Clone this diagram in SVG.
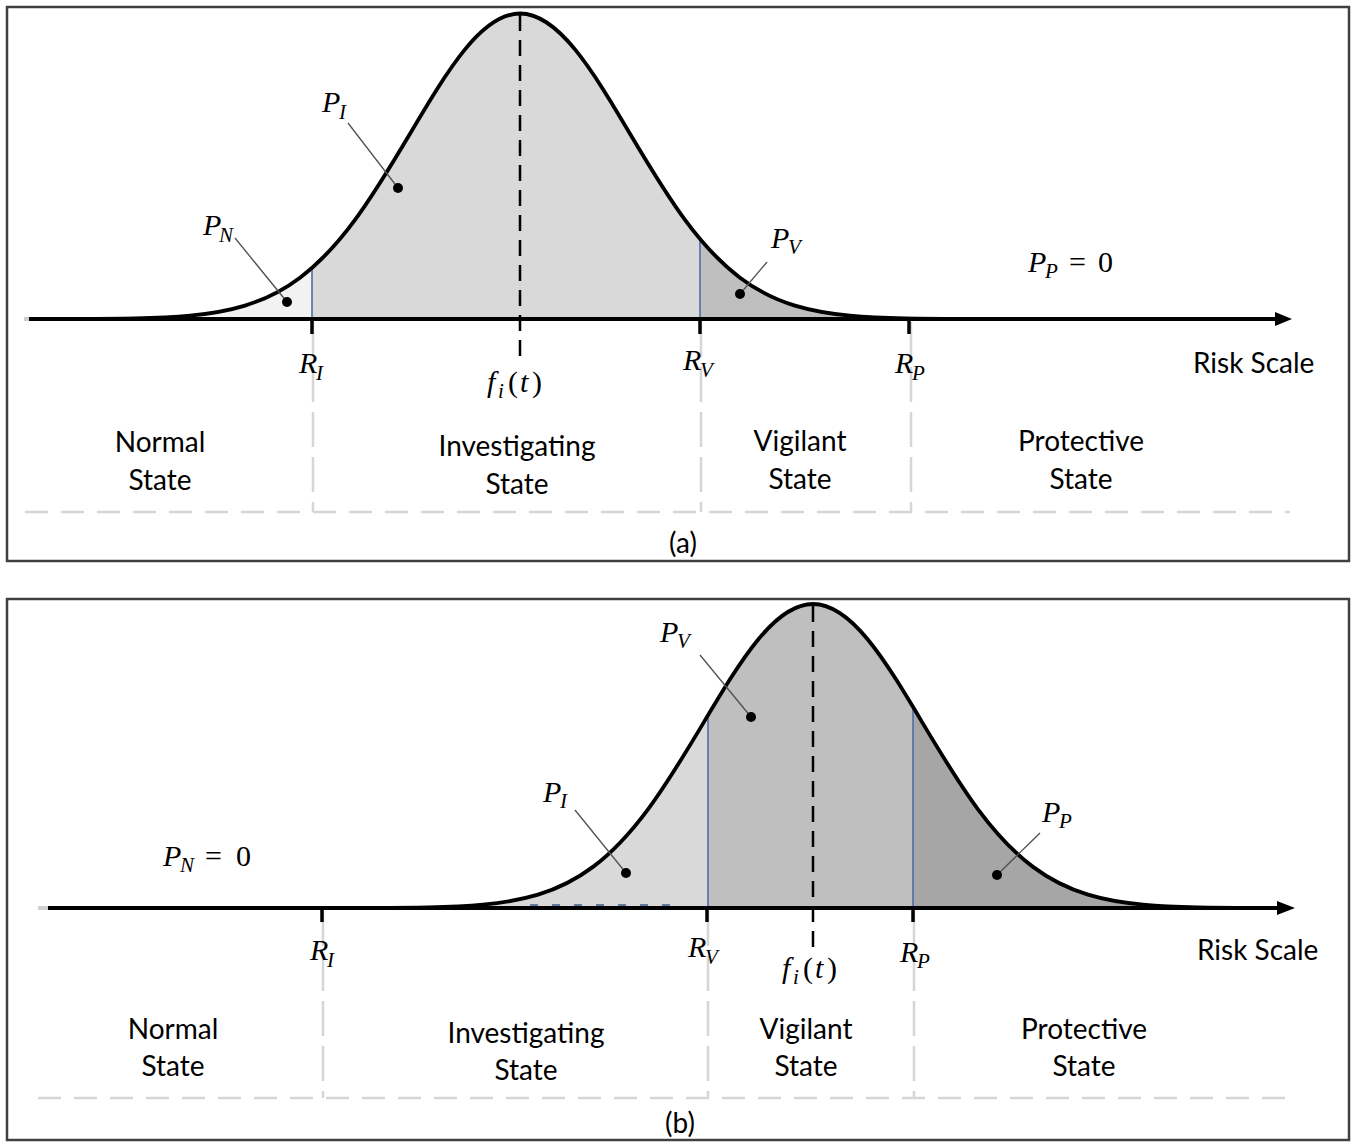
<svg xmlns="http://www.w3.org/2000/svg" xmlns:xlink="http://www.w3.org/1999/xlink" width="1357" height="1142" viewBox="0 0 1357 1142">
<style>
.frame{fill:none;stroke:#404040;stroke-width:2.5}
.axis{stroke:#000;stroke-width:4;fill:none}
.axisext{stroke:#d0d0d0;stroke-width:4}
.tick{stroke:#000;stroke-width:3.5}
.peak{stroke:#000;stroke-width:2.5;stroke-dasharray:16 9;fill:none}
.gv{stroke:#d6d6d6;stroke-width:2.5;stroke-dasharray:35 10;fill:none}
.gh{stroke:#d6d6d6;stroke-width:2.5;stroke-dasharray:23 13;fill:none}
.blue{stroke:#4a6ea8;stroke-width:1.6}
.lead{stroke:#505050;stroke-width:1.3;fill:none}
.dot{fill:#000}
.curve{fill:none;stroke:#000;stroke-width:3.8;stroke-linejoin:round}
.m{font-family:"Liberation Serif","DejaVu Serif",serif;font-style:italic;font-size:30px;fill:#000}
.s{font-size:21px}
.up{font-style:normal}
.t{font-family:Lato,"Liberation Sans",sans-serif;font-size:28px;text-anchor:middle;fill:#000}
.rs{font-family:Lato,"Liberation Sans",sans-serif;font-size:28px;fill:#000}
</style>
<defs>
<path id="gA" vector-effect="non-scaling-stroke" transform="translate(520,319) scale(110,-305.5)" d="M-4 0 L-4 0.00034 C-3.8333 0.00056 -3.6667 0.00091 -3.5 0.00219 C-3.3333 0.00347 -3.1667 0.00555 -3 0.01111 C-2.8333 0.01667 -2.6667 0.02563 -2.5 0.04394 C-2.3333 0.06225 -2.1667 0.09023 -2 0.13534 C-1.8333 0.18045 -1.6667 0.24349 -1.5 0.32465 C-1.3333 0.40581 -1.1667 0.50544 -1 0.60653 C-0.8333 0.70762 -0.6667 0.80896 -0.5 0.8825 C-0.3333 0.95604 -0.1667 1 0 1 C0.1667 1 0.3333 0.95604 0.5 0.8825 C0.6667 0.80896 0.8333 0.70762 1 0.60653 C1.1667 0.50544 1.3333 0.40581 1.5 0.32465 C1.6667 0.24349 1.8333 0.18045 2 0.13534 C2.1667 0.09023 2.3333 0.06225 2.5 0.04394 C2.6667 0.02563 2.8333 0.01667 3 0.01111 C3.1667 0.00555 3.3333 0.00347 3.5 0.00219 C3.6667 0.00091 3.8333 0.00056 4 0.00034 L4 0 Z"/>
<path id="gB" vector-effect="non-scaling-stroke" transform="translate(813,908) scale(110,-304)" d="M-4 0 L-4 0.00034 C-3.8333 0.00056 -3.6667 0.00091 -3.5 0.00219 C-3.3333 0.00347 -3.1667 0.00555 -3 0.01111 C-2.8333 0.01667 -2.6667 0.02563 -2.5 0.04394 C-2.3333 0.06225 -2.1667 0.09023 -2 0.13534 C-1.8333 0.18045 -1.6667 0.24349 -1.5 0.32465 C-1.3333 0.40581 -1.1667 0.50544 -1 0.60653 C-0.8333 0.70762 -0.6667 0.80896 -0.5 0.8825 C-0.3333 0.95604 -0.1667 1 0 1 C0.1667 1 0.3333 0.95604 0.5 0.8825 C0.6667 0.80896 0.8333 0.70762 1 0.60653 C1.1667 0.50544 1.3333 0.40581 1.5 0.32465 C1.6667 0.24349 1.8333 0.18045 2 0.13534 C2.1667 0.09023 2.3333 0.06225 2.5 0.04394 C2.6667 0.02563 2.8333 0.01667 3 0.01111 C3.1667 0.00555 3.3333 0.00347 3.5 0.00219 C3.6667 0.00091 3.8333 0.00056 4 0.00034 L4 0 Z"/>
<clipPath id="cA1"><rect x="0" y="0" width="312" height="560"/></clipPath>
<clipPath id="cA2"><rect x="312" y="0" width="388" height="560"/></clipPath>
<clipPath id="cA3"><rect x="700" y="0" width="657" height="560"/></clipPath>
<clipPath id="cB1"><rect x="0" y="598" width="708" height="540"/></clipPath>
<clipPath id="cB2"><rect x="708" y="598" width="205" height="540"/></clipPath>
<clipPath id="cB3"><rect x="913" y="598" width="444" height="540"/></clipPath>
</defs>
<rect width="1357" height="1142" fill="#fff"/>

<g id="panel-a">
  <rect class="frame" x="7" y="7" width="1342" height="554"/>
  <g id="a-distribution">
    <g clip-path="url(#cA1)"><use xlink:href="#gA" fill="#f2f2f2"/></g>
    <g clip-path="url(#cA2)"><use xlink:href="#gA" fill="#d9d9d9"/></g>
    <g clip-path="url(#cA3)"><use xlink:href="#gA" fill="#bfbfbf"/></g>
    <line class="blue" x1="312" y1="268" x2="312" y2="318"/>
    <line class="blue" x1="700" y1="239" x2="700" y2="318"/>
  </g>
  <g id="a-grid">
    <line class="gv" x1="313" y1="322" x2="313" y2="512"/>
    <line class="gv" x1="701" y1="322" x2="701" y2="512"/>
    <line class="gv" x1="911" y1="322" x2="911" y2="512"/>
    <line class="gh" x1="25" y1="512" x2="1290" y2="512"/>
  </g>
  <g id="a-axis">
    <line class="axisext" x1="24" y1="319" x2="30" y2="319"/>
    <line class="axis" x1="29" y1="319" x2="1278" y2="319"/>
    <polygon points="1275,312 1292,319 1275,326" fill="#000"/>
    <line class="tick" x1="312" y1="319" x2="312" y2="334"/>
    <line class="tick" x1="700" y1="319" x2="700" y2="334"/>
    <line class="tick" x1="909" y1="319" x2="909" y2="334"/>
    <use xlink:href="#gA" class="curve"/>
    <line class="peak" x1="520" y1="15" x2="520" y2="358"/>
  </g>
  <g id="a-labels">
    <text class="m" x="322" y="112">P<tspan class="s" x="339" y="119">I</tspan></text>
    <text class="m" x="203" y="235">P<tspan class="s" x="219" y="242">N</tspan></text>
    <text class="m" x="771" y="248">P<tspan class="s" x="788" y="254">V</tspan></text>
    <text class="m" x="1028" y="272">P<tspan class="s" x="1045" y="278">P</tspan><tspan class="up" x="1069" y="272">=</tspan><tspan class="up" x="1098" y="272">0</tspan></text>
    <text class="m" x="299" y="373">R<tspan class="s" x="316" y="380">I</tspan></text>
    <text class="m" x="487" y="392">f<tspan class="s" x="498" y="398">i</tspan><tspan class="up" x="508" y="392">(</tspan><tspan x="520" y="392">t</tspan><tspan class="up" x="532" y="392">)</tspan></text>
    <text class="m" x="683" y="370">R<tspan class="s" x="700" y="377">V</tspan></text>
    <text class="m" x="895" y="373">R<tspan class="s" x="912" y="380">P</tspan></text>
    <text class="rs" x="1193" y="373">Risk Scale</text>
    <text class="t" x="160" y="452">Normal</text>
    <text class="t" x="160" y="490">State</text>
    <text class="t" x="517" y="456">Investigating</text>
    <text class="t" x="517" y="494">State</text>
    <text class="t" x="800" y="451">Vigilant</text>
    <text class="t" x="800" y="489">State</text>
    <text class="t" x="1081" y="451">Protective</text>
    <text class="t" x="1081" y="489">State</text>
    <text class="t" x="683" y="553">(a)</text>
  </g>
</g>

<g id="panel-b">
  <rect class="frame" x="7" y="599" width="1342" height="541"/>
  <g id="b-distribution">
    <g clip-path="url(#cB1)"><use xlink:href="#gB" fill="#d9d9d9"/></g>
    <g clip-path="url(#cB2)"><use xlink:href="#gB" fill="#bfbfbf"/></g>
    <g clip-path="url(#cB3)"><use xlink:href="#gB" fill="#a6a6a6"/></g>
    <line class="blue" x1="708" y1="716" x2="708" y2="907"/>
    <line class="blue" x1="913" y1="707" x2="913" y2="907"/>
    <line x1="530" y1="905" x2="684" y2="905" stroke="#3d5a8a" stroke-width="1.6" stroke-dasharray="8 14"/>
  </g>
  <g id="b-grid">
    <line class="gv" x1="323" y1="911" x2="323" y2="1098"/>
    <line class="gv" x1="708" y1="911" x2="708" y2="1098"/>
    <line class="gv" x1="914" y1="911" x2="914" y2="1098"/>
    <line class="gh" x1="38" y1="1098" x2="1290" y2="1098"/>
  </g>
  <g id="b-axis">
    <line class="axisext" x1="38" y1="908" x2="49" y2="908"/>
    <line class="axis" x1="48" y1="908" x2="1280" y2="908"/>
    <polygon points="1277,901 1295,908 1277,915" fill="#000"/>
    <line class="tick" x1="322" y1="908" x2="322" y2="922"/>
    <line class="tick" x1="707" y1="908" x2="707" y2="922"/>
    <line class="tick" x1="913" y1="908" x2="913" y2="922"/>
    <use xlink:href="#gB" class="curve"/>
    <line class="peak" x1="813" y1="606" x2="813" y2="956"/>
  </g>
  <g id="b-labels">
    <text class="m" x="660" y="642">P<tspan class="s" x="677" y="648">V</tspan></text>
    <text class="m" x="543" y="802">P<tspan class="s" x="560" y="808">I</tspan></text>
    <text class="m" x="1042" y="822">P<tspan class="s" x="1059" y="828">P</tspan></text>
    <text class="m" x="163" y="866">P<tspan class="s" x="180" y="872">N</tspan><tspan class="up" x="205" y="866">=</tspan><tspan class="up" x="236" y="866">0</tspan></text>
    <text class="m" x="310" y="960">R<tspan class="s" x="327" y="967">I</tspan></text>
    <text class="m" x="688" y="957">R<tspan class="s" x="705" y="964">V</tspan></text>
    <text class="m" x="782" y="978">f<tspan class="s" x="793" y="984">i</tspan><tspan class="up" x="803" y="978">(</tspan><tspan x="815" y="978">t</tspan><tspan class="up" x="827" y="978">)</tspan></text>
    <text class="m" x="900" y="962">R<tspan class="s" x="917" y="968">P</tspan></text>
    <text class="rs" x="1197" y="960">Risk Scale</text>
    <text class="t" x="173" y="1039">Normal</text>
    <text class="t" x="173" y="1076">State</text>
    <text class="t" x="526" y="1043">Investigating</text>
    <text class="t" x="526" y="1080">State</text>
    <text class="t" x="806" y="1039">Vigilant</text>
    <text class="t" x="806" y="1076">State</text>
    <text class="t" x="1084" y="1039">Protective</text>
    <text class="t" x="1084" y="1076">State</text>
    <text class="t" x="680" y="1133">(b)</text>
  </g>
</g>

<g id="connectors">
  <line class="lead" x1="348" y1="123" x2="398" y2="188"/>
  <circle class="dot" cx="398" cy="188" r="5"/>
  <line class="lead" x1="235" y1="238" x2="287" y2="302"/>
  <circle class="dot" cx="287" cy="302" r="5"/>
  <line class="lead" x1="767" y1="262" x2="740" y2="294"/>
  <circle class="dot" cx="740" cy="294" r="5"/>
  <line class="lead" x1="700" y1="655" x2="751" y2="717"/>
  <circle class="dot" cx="751" cy="717" r="5"/>
  <line class="lead" x1="575" y1="810" x2="626" y2="873"/>
  <circle class="dot" cx="626" cy="873" r="5"/>
  <line class="lead" x1="1040" y1="833" x2="997" y2="875"/>
  <circle class="dot" cx="997" cy="875" r="5"/>
</g>
</svg>
